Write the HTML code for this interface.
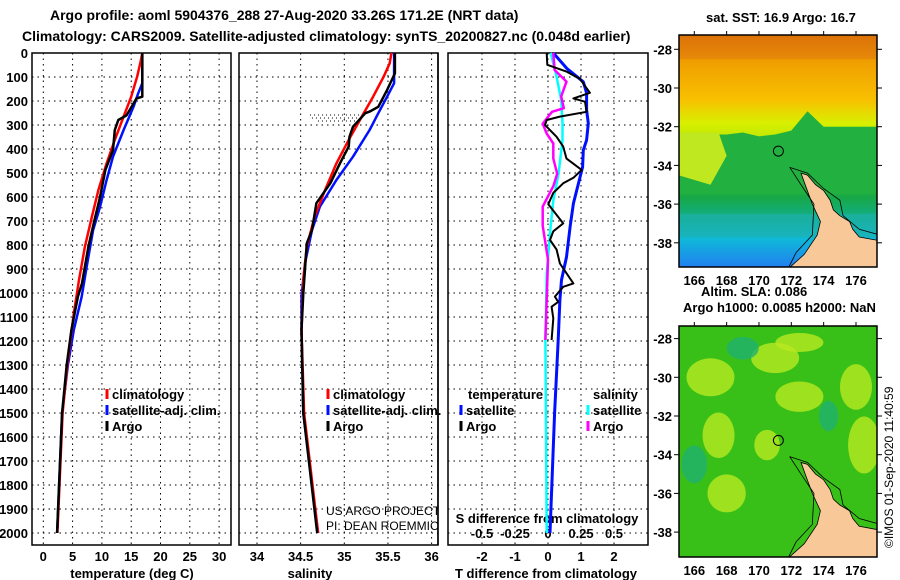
<!DOCTYPE html>
<html><head><meta charset="utf-8"><style>
body{margin:0;background:#fff;}
svg{display:block;font-family:"Liberation Sans",sans-serif;}
.b{font-weight:bold;font-size:13px;}
</style></head><body>
<svg id="c" width="900" height="580" xmlns="http://www.w3.org/2000/svg">
<text x="50" y="20" class="b" style="font-size:14px">Argo profile: aoml 5904376_288 27-Aug-2020 33.26S 171.2E (NRT data)</text>
<text x="22" y="41" class="b" style="font-size:14px">Climatology: CARS2009. Satellite-adjusted climatology: synTS_20200827.nc (0.048d earlier)</text>
<text x="706" y="22" class="b">sat. SST: 16.9 Argo: 16.7</text>
<text x="701" y="296" class="b">Altim. SLA: 0.086</text>
<text x="683" y="312" class="b">Argo h1000: 0.0085 h2000: NaN</text>
<text transform="translate(893,548) rotate(-90)" style="font-size:12px">©IMOS 01-Sep-2020 11:40:59</text>
<g id="g"></g>
</svg>
<script>
const tDep = [0,126,168,224,321,432,529,640,738,876,1015,1154,1300,1500,2000];
const tSat = [16.9,16.9,16.2,15.4,13.7,11.9,10.8,9.7,8.5,7.5,6.55,5.2,4.2,3.2,2.35];
const tcDep = [0,36,99,182,265,362,460,571,682,807,946,1085,1300,1500,2000];
const tClim = [16.9,16.6,16.0,15.0,13.7,12.2,10.8,9.4,8.3,7.1,6.1,5.2,4.1,3.3,2.4];
const taDep = [0,182,189,260,279,321,404,487,599,710,807,960,1015,1154,1300,1500,2000];
const tArgo = [16.9,16.9,15.9,14.2,12.8,12.2,11.9,10.6,9.7,8.6,7.7,6.6,5.9,4.8,4.0,3.2,2.35];
const sDep = [0,126,182,251,321,432,529,640,738,876,1015,1154,1500,2000];
const sSat = [35.57,35.57,35.49,35.39,35.29,35.10,34.91,34.72,34.63,34.55,34.51,34.51,34.53,34.70];
const scDep = [0,43,99,182,265,362,460,571,682,807,946,1154,1500,2000];
const sClim = [35.54,35.52,35.45,35.33,35.20,35.05,34.91,34.78,34.66,34.57,34.53,34.51,34.54,34.70];
const saDep = [0,85,154,224,244,251,307,349,390,460,543,626,738,793,1001,1154,1500,2000];
const sArgo = [35.58,35.58,35.49,35.39,35.29,35.24,35.10,35.06,35.05,34.95,34.84,34.68,34.63,34.57,34.53,34.51,34.53,34.69];
const dDep = [0,49,78,108,166,189,203,245,265,279,300,349,390,440,487,520,543,583,630,710,743,779,819,877,960,974,1015,1037,1057,1106,1196];
const dT = [-0.04,-0.02,0.57,0.97,1.27,0.77,1.12,1.17,0.36,-0.04,-0.09,0.26,0.46,0.56,1.02,0.77,0.46,0.16,0.01,0.46,0.16,0.06,0.26,0.36,0.77,0.46,0.21,0.31,0.11,0.16,0.11];
const dsDep = [0,71,119,181,230,245,294,336,377,440,503,555,640,720,860,1196];
const dS = [0.04,0.05,0.14,0.10,0.12,0.03,-0.04,-0.01,0.04,0.04,0.07,0.04,-0.04,-0.04,0.00,-0.02];
const dcDep = [0,85,196,293,363,502,614,725,920,1196,2000];
const dSc = [0.02,0.06,0.10,0.11,0.11,0.08,0.04,0.02,-0.01,-0.02,-0.01];
const dbDep = [0,64,120,167,237,293,363,405,475,544,627,724,850,946,1029,1196,1500,2000];
const dTb = [0.16,0.57,1.07,1.17,1.17,1.22,1.17,1.07,1.05,0.92,0.77,0.67,0.56,0.41,0.36,0.31,0.2,0.06];
const depthTicks = [0,100,200,300,400,500,600,700,800,900,1000,1100,1200,1300,1400,1500,1600,1700,1800,1900,2000];
const tTicks = [0,5,10,15,20,25,30];
const sTicks = [34,34.5,35,35.5,36];
const dTicks = [-2,-1,0,1,2];
const dsTicks = [-0.5,-0.25,0,0.25,0.5];
const lonTicks = [166,168,170,172,174,176];
const latTicks = [-28,-30,-32,-34,-36,-38];

const NS='http://www.w3.org/2000/svg', G=document.getElementById('g');
function mk(t,a,p){const e=document.createElementNS(NS,t);for(const k in a)e.setAttribute(k,a[k]);(p||G).appendChild(e);return e;}
const TOP=53, BOT=545, yD=d=>TOP+d*0.24;
const xT=v=>43.3+v*5.86, xS=v=>257+(v-34)*87.3, xDT=v=>548+v*33, xDS=v=>548+v*132;
const panels=[[32,231],[239,438],[448,648]];
panels.forEach((p,i)=>{
  const r=mk('rect',{x:p[0],y:TOP,width:p[1]-p[0],height:BOT-TOP,fill:'#fff',stroke:'#000','stroke-width':1.5});
  
  
  depthTicks.forEach(d=>{ if(d>0){const l=mk('line',{x1:p[0],x2:p[1],y1:yD(d),y2:yD(d),stroke:'#000','stroke-dasharray':'1.5,4','stroke-width':1});
    
    }
  });
});
depthTicks.forEach(d=>{const t=mk('text',{x:28,y:yD(d)+5,'text-anchor':'end',class:'b'});t.textContent=d;
  
  });
function vgrid(vals,fx,p,labY,fmt){vals.forEach(v=>{const x=fx(v);
  const l=mk('line',{x1:x,x2:x,y1:TOP,y2:BOT,stroke:'#000','stroke-dasharray':'1.5,4'});
  
  
  const t=mk('text',{x:x,y:labY,'text-anchor':'middle',class:'b'});t.textContent=fmt?fmt(v):v;
  
  });}
vgrid(tTicks,xT,panels[0],561);
vgrid(sTicks,xS,panels[1],561);
vgrid(dTicks,xDT,panels[2],561);
dsTicks.forEach(v=>{const t=mk('text',{x:xDS(v),y:538,'text-anchor':'middle',class:'b'});t.textContent=v;
  
  });
[['temperature (deg C)',132],['salinity',310],['T difference from climatology',546]].forEach(a=>{
  const t=mk('text',{x:a[1],y:578,'text-anchor':'middle',class:'b'});t.textContent=a[0];
  
  });
const st=mk('text',{x:547,y:523,'text-anchor':'middle',class:'b'});st.textContent='S difference from climatology';


function line(dep,val,fx,col,w,name){const pts=dep.map((d,i)=>fx(val[i]).toFixed(1)+','+yD(d).toFixed(1)).join(' ');
  const e=mk('polyline',{points:pts,fill:'none',stroke:col,'stroke-width':w,'stroke-linejoin':'round'});
  
  }
line(tDep,tSat,xT,'#0010ff',2.5,'temp-satellite-clim-line');
line(tcDep,tClim,xT,'#ff0000',2.5,'temp-climatology-line');
line(taDep,tArgo,xT,'#000',2.5,'temp-argo-line');
line(sDep,sSat,xS,'#0010ff',2.5,'sal-satellite-clim-line');
line(scDep,sClim,xS,'#ff0000',2.5,'sal-climatology-line');
line(saDep,sArgo,xS,'#000',2.5,'sal-argo-line');
const dot=mk('path',{d:'M310,115 H362 M312,118 H360 M318,121 H358',stroke:'#000','stroke-dasharray':'1,3',fill:'none'});


line(dcDep,dSc,xDS,'#00ffff',2.5,'s-diff-satellite-line');
line(dbDep,dTb,xDT,'#0010ff',3,'t-diff-satellite-line');
line(dsDep,dS,xDS,'#ff00ff',2.5,'s-diff-argo-line');
line(dDep,dT,xDT,'#000',2,'t-diff-argo-line');
function leg(x,y,col,txt,name){const l=mk('line',{x1:x,x2:x,y1:y-10,y2:y,stroke:col,'stroke-width':3});
  
  
  const t=mk('text',{x:x+5,y:y,class:'b'});t.textContent=txt;
  
  }
leg(107,399,'#f00','climatology','legend-climatology');leg(107,415,'#0010ff','satellite-adj. clim.','legend-satellite');leg(107,431,'#000','Argo','legend-argo');
leg(328,399,'#f00','climatology','legend-climatology-2');leg(328,415,'#0010ff','satellite-adj. clim.','legend-satellite-2');leg(328,431,'#000','Argo','legend-argo-2');
const lt=mk('text',{x:468,y:399,class:'b'});lt.textContent='temperature';


const ls=mk('text',{x:593,y:399,class:'b'});ls.textContent='salinity';


leg(461,415,'#0010ff','satellite','legend-t-satellite');leg(461,431,'#000','Argo','legend-t-argo');
leg(588,415,'#00ffff','satellite','legend-s-satellite');leg(588,431,'#ff00ff','Argo','legend-s-argo');
const u1=mk('text',{x:326,y:515,style:'font-size:12px'});u1.textContent='US ARGO PROJECT';


const u2=mk('text',{x:326,y:530,style:'font-size:12px'});u2.textContent='PI: DEAN ROEMMICH';


mk('rect',{x:438.8,y:500,width:8,height:40,fill:'#fff'});
mk('line',{x1:438,x2:438,y1:TOP,y2:BOT,stroke:'#000','stroke-width':1.5});

const xL=lon=>694.3+(lon-166)*16.17;
function map(y0,top,bot,id,isSST){
  const yL=lat=>y0+(-28-lat)*19.35;
  const defs=mk('defs',{});
  const cp=mk('clipPath',{id:'cp'+id},defs);mk('rect',{x:679,y:top,width:198,height:bot-top},cp);
  const g=mk('g',{'clip-path':'url(#cp'+id+')'});
  
  
  if(isSST){
    const lg=mk('linearGradient',{id:'sg',x1:0,y1:0,x2:0,y2:1},defs);
    [[0,'#d86a00'],[0.12,'#f0a000'],[0.28,'#f8c000'],[0.38,'#d8f000'],[0.5,'#a8e000'],[0.55,'#30b830'],[0.7,'#18a848'],[0.8,'#10b090'],[0.88,'#10b8d8'],[1,'#2080f0']].forEach(s=>mk('stop',{offset:s[0],'stop-color':s[1]},lg));
    mk('rect',{x:679,y:top,width:198,height:bot-top,fill:'url(#sg)'},g);
    mk('polygon',{points:[[165,-32.4],[168,-32.4],[169,-32.3],[170,-32.5],[171,-32.4],[172,-32.2],[173,-31.2],[174,-32],[177.5,-32],[177.5,-35.5],[165,-35.5]].map(p=>xL(p[0])+','+yL(p[1])).join(' '),fill:'#22b040'},g);
    mk('polygon',{points:[[165,-32.3],[167.5,-32.3],[168,-33.5],[167,-35],[165,-34.5]].map(p=>xL(p[0])+','+yL(p[1])).join(' '),fill:'#c0e820'},g);
    mk('rect',{x:679,y:yL(-36.5),width:198,height:yL(-37.7)-yL(-36.5),fill:'#20b0b0',opacity:0.6},g);
    mk('rect',{x:679,y:top,width:198,height:yL(-28.5)-top,fill:'#e07a10',opacity:0.5},g);
  } else {
    mk('rect',{x:679,y:top,width:198,height:bot-top,fill:'#38c018'},g);
    [[167,-30,1.5,1],[171,-29,1.5,0.8],[167.5,-33,1,1.2],[172.5,-31,1.5,0.8],[176,-30.5,1,1.2],[168,-36,1.2,1],[170.5,-33.5,0.8,0.8],[176.5,-33.5,1,1.5],[172.5,-28.2,1.5,0.5]].forEach(e=>
      mk('ellipse',{cx:xL(e[0]),cy:yL(e[1]),rx:e[2]*16,ry:e[3]*19,fill:'#b8e820',opacity:0.8},g));
    [[169,-28.5,1,0.6],[174.3,-32,0.6,0.8],[166,-34.5,0.8,1]].forEach(e=>
      mk('ellipse',{cx:xL(e[0]),cy:yL(e[1]),rx:e[2]*16,ry:e[3]*19,fill:'#20b070',opacity:0.8},g));
  }
  const land=[[172.6,-34.4],[173,-34.5],[173.5,-35],[174,-35.3],[174.4,-35.8],[174.6,-36.3],[175,-36.6],[175.6,-36.9],[175.8,-37.3],[176.2,-37.7],[177.5,-37.9],[177.5,-39.5],[171.6,-39.5],[172.8,-38.6],[173.6,-37.6],[173.8,-36.9],[173.3,-36],[172.9,-35.1]];
  const lp=mk('polygon',{points:land.map(p=>xL(p[0])+','+yL(p[1])).join(' '),fill:'#f8c898',stroke:'#000','stroke-width':0.8},g);
  
  
  const ct=[[171.9,-34.1],[173,-34.4],[174,-35.2],[175,-35.8],[175.2,-36.6],[176.2,-37.3],[177.5,-37.6]];
  mk('polyline',{points:ct.map(p=>xL(p[0])+','+yL(p[1])).join(' '),fill:'none',stroke:'#000','stroke-width':0.8},g);
  const ct2=[[171.9,-34.1],[172.6,-35],[173.4,-36],[173.3,-37.6],[172.3,-38.5],[171.7,-39.5]];
  mk('polyline',{points:ct2.map(p=>xL(p[0])+','+yL(p[1])).join(' '),fill:'none',stroke:'#000','stroke-width':0.8},g);
  const c=mk('circle',{cx:xL(171.2),cy:yL(-33.26),r:5,fill:'none',stroke:'#000','stroke-width':1});
  
  
  mk('rect',{x:679,y:top,width:198,height:bot-top,fill:'none',stroke:'#000','stroke-width':1.5});
  latTicks.forEach(l=>{const y=yL(l);mk('line',{x1:877,x2:882,y1:y,y2:y,stroke:'#000'});mk('line',{x1:674,x2:679,y1:y,y2:y,stroke:'#000'});
    const t=mk('text',{x:672,y:y+5,'text-anchor':'end',class:'b'});t.textContent=l;
    
    });
  lonTicks.forEach(l=>{const x=xL(l);mk('line',{x1:x,x2:x,y1:top-4,y2:top,stroke:'#000'});
    const t=mk('text',{x:x,y:bot+18,'text-anchor':'middle',class:'b'});t.textContent=l;
    
    });
}
map(49.3,35,267,1,true);
map(338.6,326,557,2,false);
</script>
</body></html>
